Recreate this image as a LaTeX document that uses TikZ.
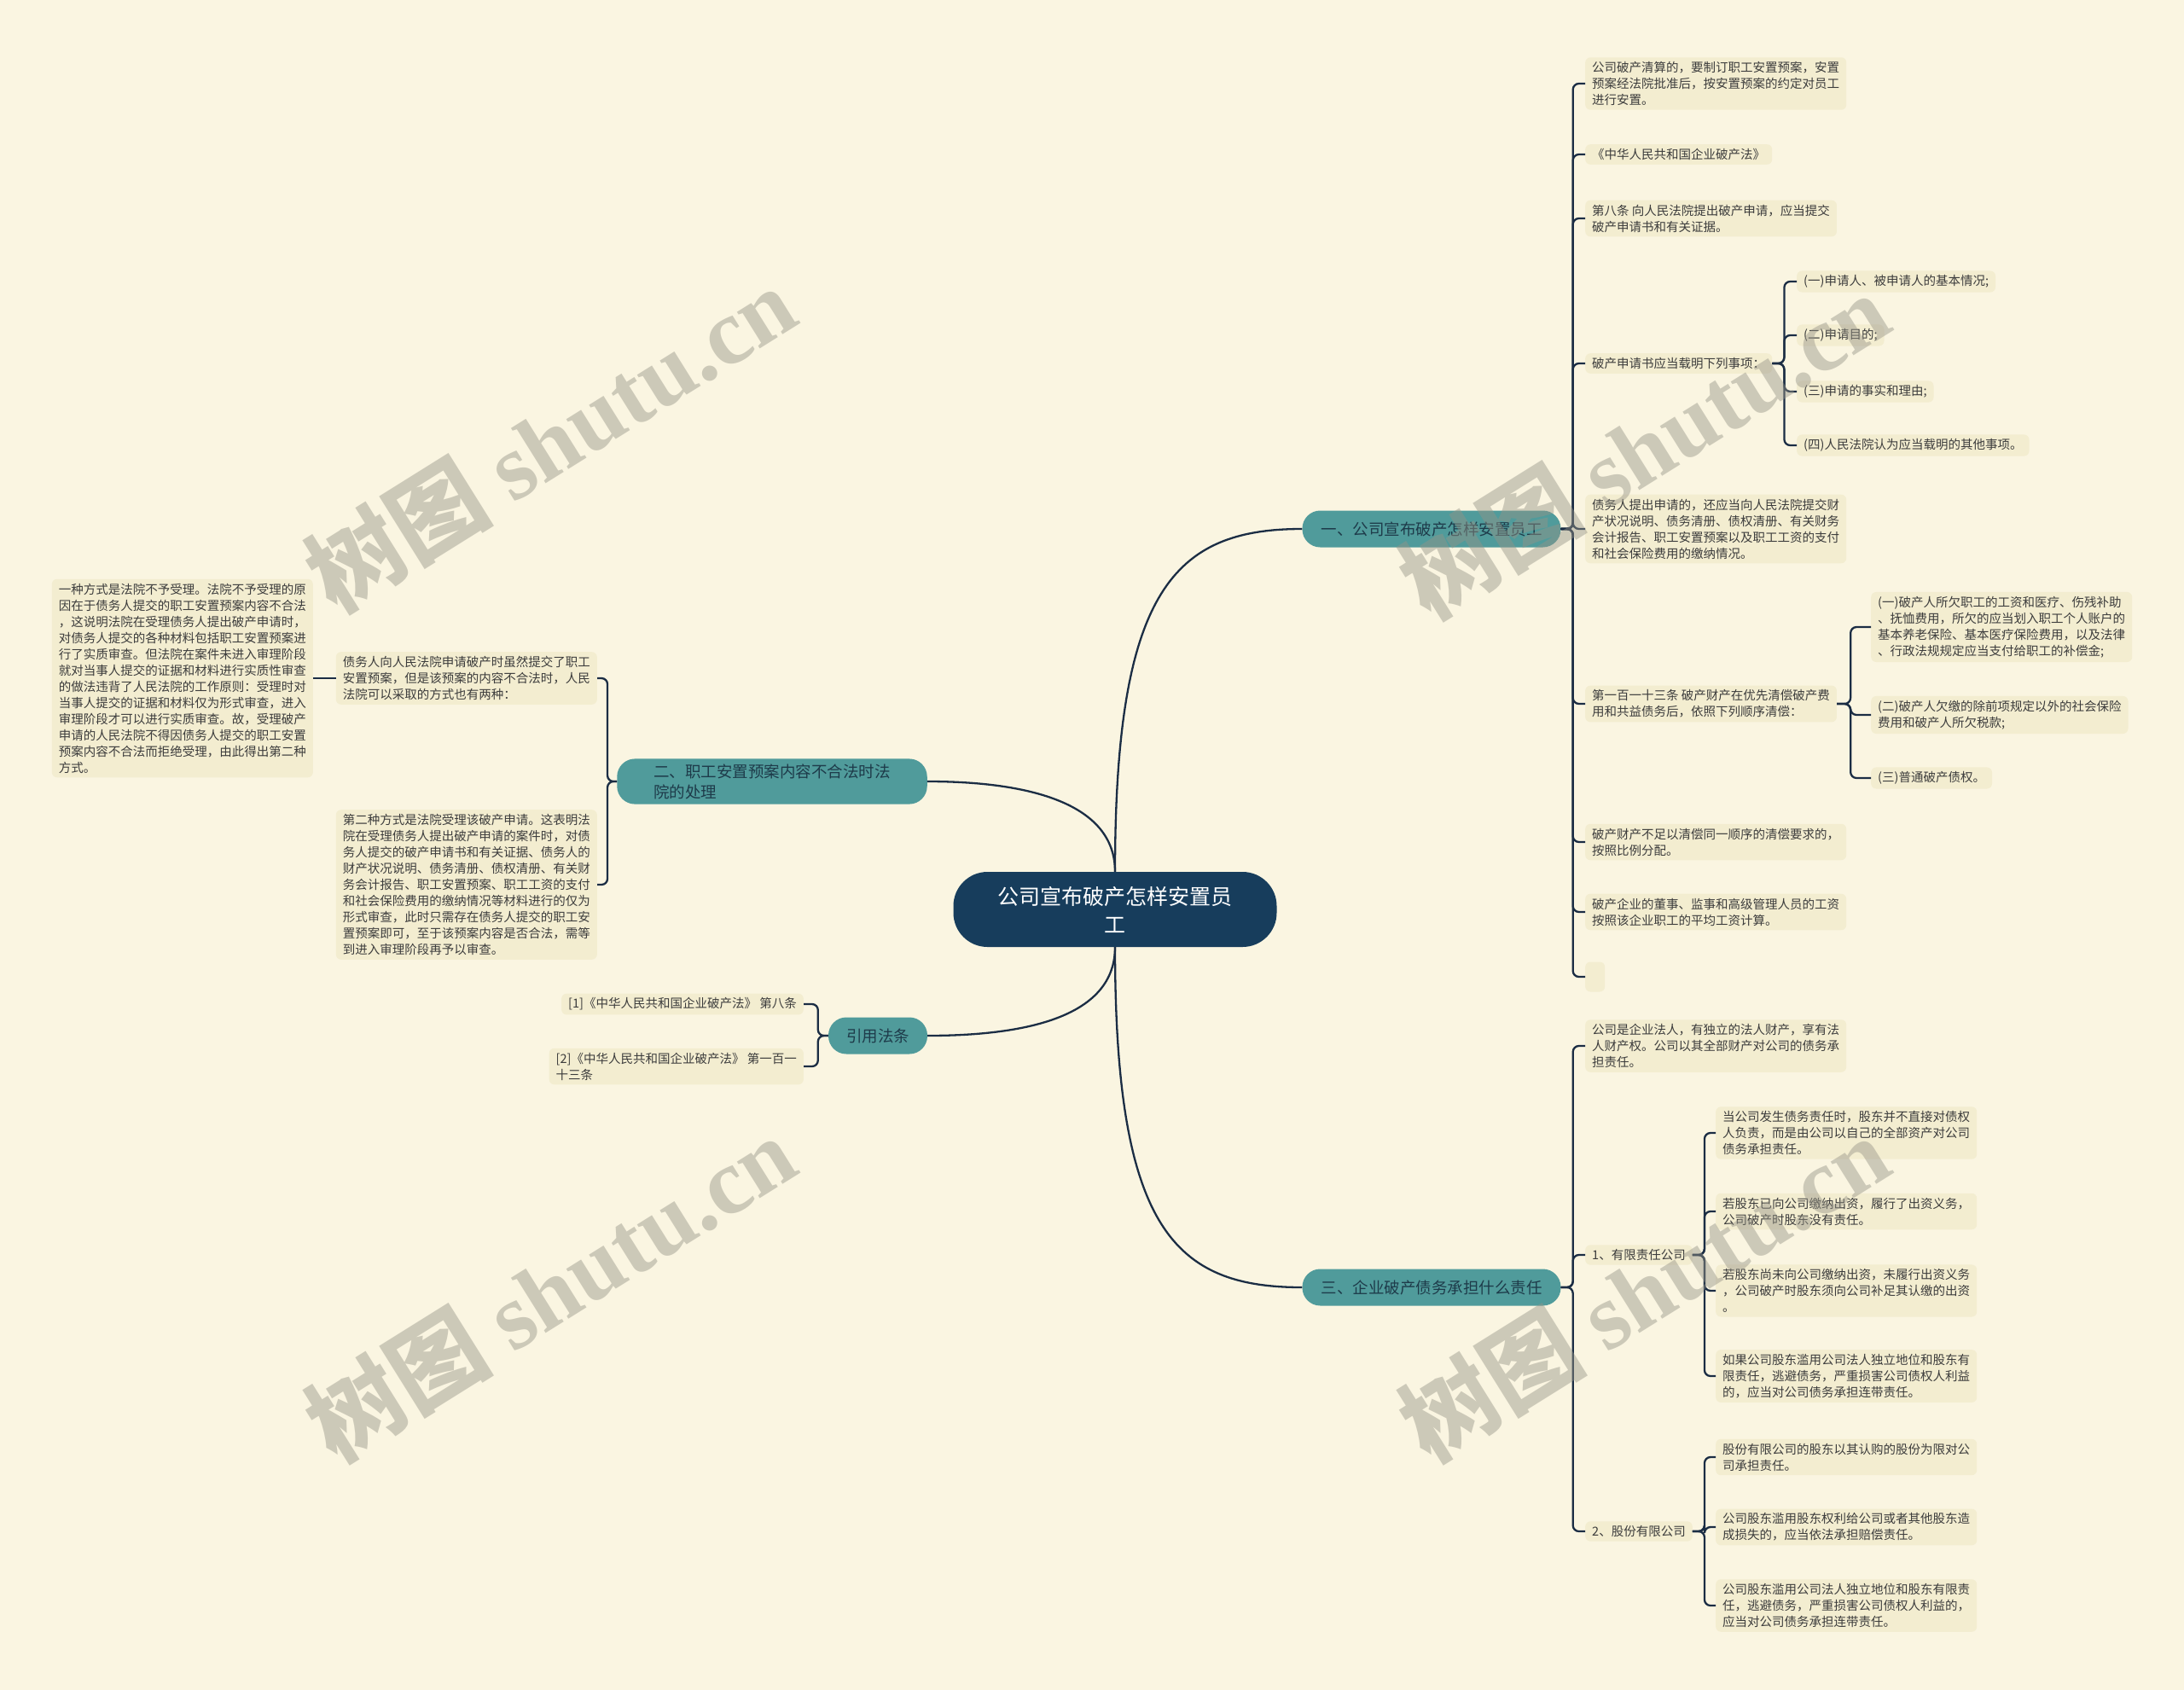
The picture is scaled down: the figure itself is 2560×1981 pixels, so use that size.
\documentclass[tikz,border=0pt]{standalone}
\usepackage{fontspec}
\setmainfont{Noto Sans CJK SC}
\newfontfamily\wmlatin{Liberation Serif}
\newfontfamily\wmcjk{Noto Sans CJK SC}
\definecolor{bgcream}{RGB}{250,245,225}
\definecolor{leafbg}{RGB}{243,237,208}
\definecolor{leaftext}{RGB}{60,60,60}
\definecolor{rootblue}{RGB}{23,61,92}
\definecolor{branchteal}{RGB}{80,155,155}
\definecolor{branchtext}{RGB}{30,59,74}
\definecolor{linkc}{RGB}{27,45,68}
\definecolor{wmgray}{RGB}{150,148,135}

\begin{document}
\begin{tikzpicture}[x=1pt,y=-1pt,
  root/.style={fill=rootblue,text=white,rounded corners=40pt,align=center,
    font=\fontsize{25}{33}\selectfont,inner xsep=52pt,inner ysep=10pt,minimum height=88pt},
  branch/.style={fill=branchteal,text=branchtext,rounded corners=21pt,align=left,
    font=\fontsize{18.5}{24}\selectfont,inner xsep=22pt,inner ysep=6pt,minimum height=43pt},
  leaf/.style={fill=leafbg,text=leaftext,rounded corners=6pt,align=left,
    font=\fontsize{14.5}{19}\selectfont,inner xsep=8pt,inner ysep=5pt},
  link/.style={draw=linkc,line width=2.3pt},
  bracket/.style={link,rounded corners=7pt},
  wm/.style={text=wmgray,opacity=.45,font=\fontsize{110}{120}\selectfont}]
\useasboundingbox (0,0) rectangle (2560,1981);
\fill[bgcream] (0,0) rectangle (2560,1981);

\node[root] (root) at (1307,1066) {公司宣布破产怎样安置员\\工};
\node[branch] (b1) at (1678,620) {一、公司宣布破产怎样安置员工};
\node[branch,inner xsep=43pt] (b2) at (905,916) {二、职工安置预案内容不合法时法\\院的处理};
\node[branch] (b3) at (1678,1509) {三、企业破产债务承担什么责任};
\node[branch,inner xsep=21pt] (b4) at (1029,1214) {引用法条};

\draw[link] (root.north) .. controls +(0,-330) and +(-150,0) .. (b1.west);
\draw[link] (root.north) .. controls +(0,-80) and +(120,0) .. (b2.east);
\draw[link] (root.south) .. controls +(0,330) and +(-150,0) .. (b3.west);
\draw[link] (root.south) .. controls +(0,80) and +(120,0) .. (b4.east);

% branch one
\node[leaf,anchor=west] (c1) at (1858,98) {公司破产清算的，要制订职工安置预案，安置\\预案经法院批准后，按安置预案的约定对员工\\进行安置。};
\node[leaf,anchor=west] (c2) at (1858,181) {《中华人民共和国企业破产法》};
\node[leaf,anchor=west] (c3) at (1858,256) {第八条 向人民法院提出破产申请，应当提交\\破产申请书和有关证据。};
\node[leaf,anchor=west] (c4) at (1858,426) {破产申请书应当载明下列事项：};
\node[leaf,anchor=west] (c41) at (2106,330) {(一)申请人、被申请人的基本情况;};
\node[leaf,anchor=west] (c42) at (2106,393) {(二)申请目的;};
\node[leaf,anchor=west] (c43) at (2106,459) {(三)申请的事实和理由;};
\node[leaf,anchor=west] (c44) at (2106,522) {(四)人民法院认为应当载明的其他事项。};
\node[leaf,anchor=west] (c5) at (1858,620) {债务人提出申请的，还应当向人民法院提交财\\产状况说明、债务清册、债权清册、有关财务\\会计报告、职工安置预案以及职工工资的支付\\和社会保险费用的缴纳情况。};
\node[leaf,anchor=west] (c6) at (1858,825) {第一百一十三条 破产财产在优先清偿破产费\\用和共益债务后，依照下列顺序清偿：};
\node[leaf,anchor=west] (c61) at (2193,735) {(一)破产人所欠职工的工资和医疗、伤残补助\\、抚恤费用，所欠的应当划入职工个人账户的\\基本养老保险、基本医疗保险费用，以及法律\\、行政法规规定应当支付给职工的补偿金;};
\node[leaf,anchor=west] (c62) at (2193,838) {(二)破产人欠缴的除前项规定以外的社会保险\\费用和破产人所欠税款;};
\node[leaf,anchor=west] (c63) at (2193,912) {(三)普通破产债权。};
\node[leaf,anchor=west] (c7) at (1858,987) {破产财产不足以清偿同一顺序的清偿要求的，\\按照比例分配。};
\node[leaf,anchor=west] (c8) at (1858,1069) {破产企业的董事、监事和高级管理人员的工资\\按照该企业职工的平均工资计算。};
\node[leaf,anchor=west,minimum width=23pt,minimum height=35pt] (c9) at (1858,1145) {};

\foreach \c in {c1,c2,c3,c4,c5,c6,c7,c8,c9}
  \draw[bracket] (b1.east) -- ++(14,0) |- (\c.west);
\foreach \c in {c41,c42,c43,c44}
  \draw[bracket] (c4.east) -- ++(14,0) |- (\c.west);
\foreach \c in {c61,c62,c63}
  \draw[bracket] (c6.east) -- ++(16,0) |- (\c.west);

% branch two
\node[leaf,anchor=east] (e1) at (700,795) {债务人向人民法院申请破产时虽然提交了职工\\安置预案，但是该预案的内容不合法时，人民\\法院可以采取的方式也有两种：};
\node[leaf,anchor=east] (e11) at (367,795) {一种方式是法院不予受理。法院不予受理的原\\因在于债务人提交的职工安置预案内容不合法\\，这说明法院在受理债务人提出破产申请时，\\对债务人提交的各种材料包括职工安置预案进\\行了实质审查。但法院在案件未进入审理阶段\\就对当事人提交的证据和材料进行实质性审查\\的做法违背了人民法院的工作原则：受理时对\\当事人提交的证据和材料仅为形式审查，进入\\审理阶段才可以进行实质审查。故，受理破产\\申请的人民法院不得因债务人提交的职工安置\\预案内容不合法而拒绝受理，由此得出第二种\\方式。};
\node[leaf,anchor=east] (e2) at (700,1037) {第二种方式是法院受理该破产申请。这表明法\\院在受理债务人提出破产申请的案件时，对债\\务人提交的破产申请书和有关证据、债务人的\\财产状况说明、债务清册、债权清册、有关财\\务会计报告、职工安置预案、职工工资的支付\\和社会保险费用的缴纳情况等材料进行的仅为\\形式审查，此时只需存在债务人提交的职工安\\置预案即可，至于该预案内容是否合法，需等\\到进入审理阶段再予以审查。};

\foreach \c in {e1,e2}
  \draw[bracket] (b2.west) -- ++(-11,0) |- (\c.east);
\draw[link] (e1.west) -- (e11.east);

% branch three
\node[leaf,anchor=west] (d1) at (1858,1226) {公司是企业法人，有独立的法人财产，享有法\\人财产权。公司以其全部财产对公司的债务承\\担责任。};
\node[leaf,anchor=west] (d2) at (1858,1471) {1、有限责任公司};
\node[leaf,anchor=west] (d21) at (2011,1328) {当公司发生债务责任时，股东并不直接对债权\\人负责，而是由公司以自己的全部资产对公司\\债务承担责任。};
\node[leaf,anchor=west] (d22) at (2011,1420) {若股东已向公司缴纳出资，履行了出资义务，\\公司破产时股东没有责任。};
\node[leaf,anchor=west] (d23) at (2011,1513) {若股东尚未向公司缴纳出资，未履行出资义务\\，公司破产时股东须向公司补足其认缴的出资\\。};
\node[leaf,anchor=west] (d24) at (2011,1613) {如果公司股东滥用公司法人独立地位和股东有\\限责任，逃避债务，严重损害公司债权人利益\\的，应当对公司债务承担连带责任。};
\node[leaf,anchor=west] (d3) at (1858,1795) {2、股份有限公司};
\node[leaf,anchor=west] (d31) at (2011,1708) {股份有限公司的股东以其认购的股份为限对公\\司承担责任。};
\node[leaf,anchor=west] (d32) at (2011,1790) {公司股东滥用股东权利给公司或者其他股东造\\成损失的，应当依法承担赔偿责任。};
\node[leaf,anchor=west] (d33) at (2011,1882) {公司股东滥用公司法人独立地位和股东有限责\\任，逃避债务，严重损害公司债权人利益的，\\应当对公司债务承担连带责任。};

\foreach \c in {d1,d2,d3}
  \draw[bracket] (b3.east) -- ++(14,0) |- (\c.west);
\foreach \c in {d21,d22,d23,d24}
  \draw[bracket] (d2.east) -- ++(14,0) |- (\c.west);
\foreach \c in {d31,d32,d33}
  \draw[bracket] (d3.east) -- ++(14,0) |- (\c.west);

% branch four
\node[leaf,anchor=east] (f1) at (942,1177) {[1]《中华人民共和国企业破产法》 第八条};
\node[leaf,anchor=east] (f2) at (942,1250) {[2]《中华人民共和国企业破产法》 第一百一\\十三条};
\foreach \c in {f1,f2}
  \draw[bracket] (b4.west) -- ++(-12,0) |- (\c.east);

% watermark
\foreach \p in {(645,514),(645,1510),(1927,522),(1927,1510)}
  \node[wm,rotate=32] at \p {{\wmcjk\bfseries 树图} {\wmlatin\bfseries shutu.cn}};
\end{tikzpicture}
\end{document}
